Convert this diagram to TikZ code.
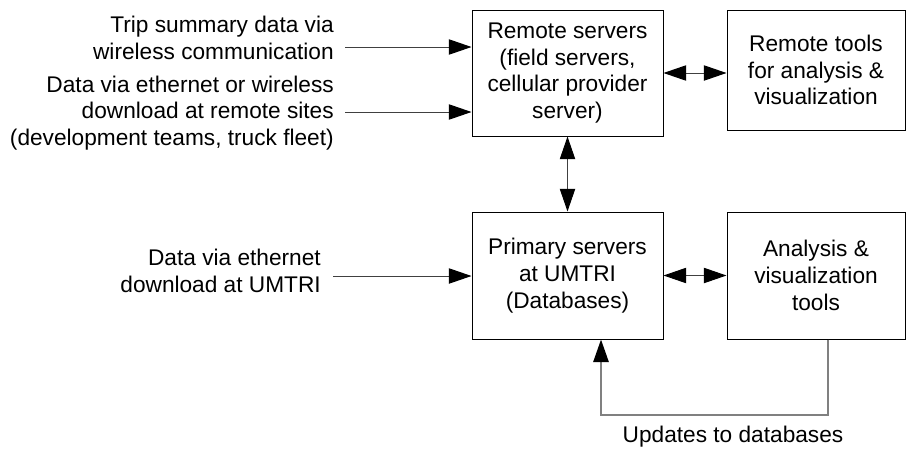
\documentclass[tikz,border=0pt]{standalone}
\usepackage{fontspec}
\setmainfont{Liberation Sans}
\usetikzlibrary{arrows.meta,positioning}

\begin{document}
\begin{tikzpicture}[x=0.75pt,y=-0.75pt,
 box/.style={draw=black,line width=0.75pt,align=center,inner sep=0pt,font=\fontsize{17}{20}\selectfont},
 srcnote/.style={align=right,inner sep=0pt,font=\fontsize{17}{20}\selectfont},
 flow/.style={-{Triangle[length=17pt,width=11.5pt,color=black]},line width=0.75pt,draw=black!75},
 both/.style={{Triangle[length=17pt,width=11.5pt,color=black]}-{Triangle[length=17pt,width=11.5pt,color=black]},line width=0.75pt,draw=black!75},
 feed/.style={-{Triangle[length=17pt,width=11.5pt,color=black]},line width=1.5pt,draw=black!50}
]
\useasboundingbox (0,0) rectangle (906,450);
\node[box,minimum width=143.25pt,minimum height=94.5pt] (rs) at (567.5,73) {Remote servers\\(field servers,\\cellular provider\\server)};
\node[box,minimum width=133.5pt,minimum height=90pt] (rt) at (816,70) {Remote tools\\for analysis \&\\visualization};
\node[box,minimum width=143.25pt,minimum height=95.25pt] (ps) at (567.5,275.5) {Primary servers\\at UMTRI\\(Databases)};
\node[box,minimum width=133.5pt,minimum height=95.25pt] (at) at (816,275.5) {Analysis \&\\visualization\\tools};

\node[srcnote,anchor=east] (trip) at (334,38) {Trip summary data via\\wireless communication};
\node[srcnote,anchor=east] (site) at (334,113) {Data via ethernet or wireless\\download at remote sites\\(development teams, truck fleet)};
\node[srcnote,anchor=east] (umtri) at (321,271) {Data via ethernet\\download at UMTRI};

% inputs
\coordinate (in1) at (345,47);
\coordinate (in2) at (345,112);
\coordinate (in3) at (333,276);
\draw[flow] (in1) -- (in1 -| rs.west);
\draw[flow] (in2) -- (in2 -| rs.west);
\draw[flow] (in3) -- (in3 -| ps.west);

% server links
\draw[both] (rs.east) -- (rs.east -| rt.west);
\draw[both] (rs.south) -- (ps.north);
\draw[both] (ps.east) -- (ps.east -| at.west);

% feedback
\coordinate (turn) at (828,415);
\coordinate (fbin) at (601,415);
\draw[feed] (at.south -| turn) -- (turn) -- (fbin) -- (fbin |- ps.south);
\node[srcnote] (upd) at (733,437) {Updates to databases};
\end{tikzpicture}
\end{document}
